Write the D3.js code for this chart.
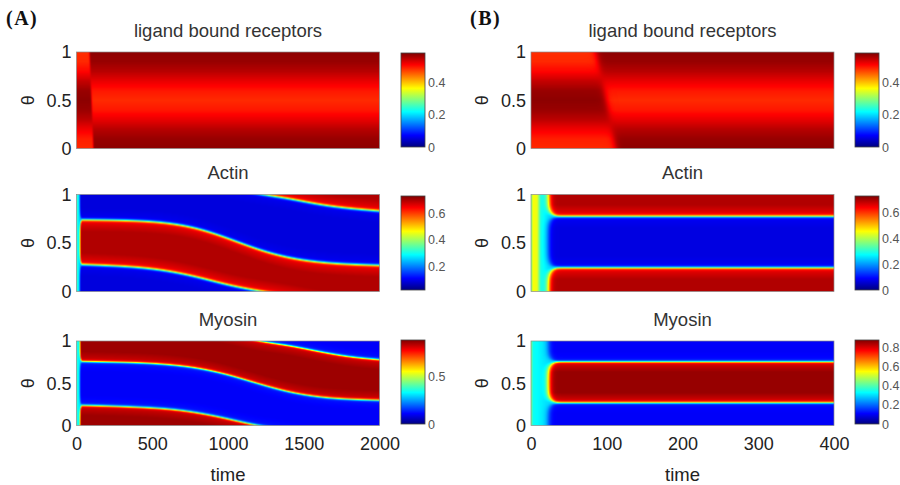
<!DOCTYPE html>
<html><head><meta charset="utf-8">
<script src="https://cdn.jsdelivr.net/npm/d3@7"></script>
<style>html,body{margin:0;padding:0;background:#fff;}svg{display:block;}</style>
</head><body>
<svg id="fig" width="900" height="485"></svg>
<script>
// ================= DATA =================
const thetaGrid = [0, 0.1, 0.2, 0.3, 0.4, 0.5, 0.6, 0.7, 0.8, 0.9, 1];
// ligand bound receptor profile across θ before and after the front
const ligandBefore = [0.485, 0.49, 0.515, 0.545, 0.565, 0.572, 0.565, 0.54, 0.505, 0.485, 0.482];
const ligandAfter  = [0.572, 0.566, 0.548, 0.52, 0.495, 0.484, 0.495, 0.52, 0.548, 0.566, 0.572];
const ligandFront  = [112, 86];          // time the front passes θ=0 and θ=1

// panel A: band edges (θ) over time (evenly spaced times); negative values wrap round to the top
const timeA = [0, 200, 400, 600, 800, 1000, 1200, 1400, 1600, 1800, 2000];
const actinA_bandLow   = [0.28, 0.268, 0.252, 0.215, 0.15, 0.065, 0.005, -0.04, -0.105, -0.145, -0.17];
const actinA_bandHigh  = [0.74, 0.737, 0.73, 0.71, 0.655, 0.55, 0.43, 0.345, 0.30, 0.28, 0.27];
const myosinA_bandLow  = [0.24, 0.232, 0.218, 0.20, 0.155, 0.08, -0.005, -0.05, -0.125, -0.19, -0.22];
const myosinA_bandHigh = [0.76, 0.752, 0.745, 0.725, 0.685, 0.605, 0.495, 0.395, 0.335, 0.31, 0.30];

// panel B: band edges (θ) over time
const timeB = [0, 100, 200, 300, 400];
const actinB_bandLow   = [0.245, 0.245, 0.245, 0.245, 0.245];
const actinB_bandHigh  = [0.775, 0.775, 0.775, 0.775, 0.775];
const myosinB_bandLow  = [0.27, 0.27, 0.27, 0.27, 0.27];
const myosinB_bandHigh = [0.755, 0.755, 0.755, 0.755, 0.755];

// field level inside / outside the band: [at edge, deep]
const actinA_inside  = [0.645, 0.695], actinA_outside  = [0.10, 0.085];
const myosinA_inside = [0.125, 0.105], myosinA_outside = [0.80, 0.85];
const actinB_inside  = [0.085, 0.07],  actinB_outside  = [0.64, 0.69];
const myosinB_inside = [0.79, 0.86],   myosinB_outside = [0.12, 0.105];

// early transient before the pattern forms
const transientTime = [0, 3, 8, 13, 22, 30];
const actinA_transient  = [0.38, 0.32, 0.30, 0.28, 0.25, 0.22];
const myosinA_transient = [0.44, 0.36, 0.34, 0.33, 0.30, 0.28];
const actinB_transient  = [0.36, 0.45, 0.44, 0.29, 0.25, 0.22];
const myosinB_transient = [0.44, 0.34, 0.33, 0.32, 0.30, 0.28];

// colour ranges and tick labels
const ligandRange = [0, 0.58],    ligandTicks = [0, 0.2, 0.4];
const actinA_range = [0.02, 0.73], actinA_ticks = [0.2, 0.4, 0.6];
const actinB_range = [0, 0.725],   actinB_ticks = [0, 0.2, 0.4, 0.6];
const myosinA_range = [0, 0.875],  myosinA_ticks = [0, 0.5];
const myosinB_range = [0, 0.88],   myosinB_ticks = [0, 0.2, 0.4, 0.6, 0.8];
const thetaTicks = [0, 0.5, 1];
const timeTicksA = [0, 500, 1000, 1500, 2000];
const timeTicksB = [0, 100, 200, 300, 400];
const titles = ["ligand bound receptors", "Actin", "Myosin"];
const panelLabels = ["(A)", "(B)"];

// ================= LAYOUT =================
const SANS = "'Liberation Sans', Arial, Helvetica, sans-serif";
const colX = { A: [76.5, 379.5], B: [531, 834] };
const cbX  = { A: [401, 425],    B: [855, 879] };
const rowY = [[52, 148.5], [194.5, 291.5], [341, 425.5]];
const cbY  = [[53, 147], [196, 290], [340, 424]];
const jetStops  = [0, 0.125, 0.375, 0.625, 0.875, 1];
const jetColors = ['#00007f', '#0000ff', '#00ffff', '#ffff00', '#ff0000', '#7f0000'];

const svg = d3.select('#fig');
const defs = svg.append('defs');
const grad = defs.append('linearGradient').attr('id', 'jet')
  .attr('x1', 0).attr('y1', 1).attr('x2', 0).attr('y2', 0);
jetStops.forEach((s, i) => grad.append('stop').attr('offset', s).attr('stop-color', jetColors[i]));

const logistic = z => 1 / (1 + Math.exp(-z));
const lin = (xs, ys) => d3.scaleLinear().domain(xs).range(ys).clamp(true);
// smooth curve through evenly spaced time samples
const smooth = (xs, ys) => {
  const f = d3.interpolateBasis(ys), s = d3.scaleLinear().domain([xs[0], xs[xs.length - 1]]).clamp(true);
  return t => f(s(t));
};
const plain = d => String(d);

function ligandField() {
  const pre = lin(thetaGrid, ligandBefore), post = lin(thetaGrid, ligandAfter);
  const front = d3.scaleLinear().domain([0, 1]).range(ligandFront);
  return (t, th) => {
    const f = logistic((t - front(th)) / 2.5);
    return pre(th) * (1 - f) + post(th) * f;
  };
}
function bandField(times, lows, highs, inside, outside, trVals) {
  const lo = smooth(times, lows), hi = smooth(times, highs), tr = lin(transientTime, trVals);
  return (t, th) => {
    const l = lo(t), h = hi(t);
    let d = -Infinity;
    for (const s of [-1, 0, 1]) { const u = th + s; d = Math.max(d, Math.min(u - l, h - u)); }
    const m = logistic(d / 0.0075);
    const a = Math.min(1, Math.abs(d) / 0.12);
    const vin = inside[0] + (inside[1] - inside[0]) * a;
    const vout = outside[0] + (outside[1] - outside[0]) * a;
    const p = vout + (vin - vout) * m;
    const tf = 23 + 10 * Math.exp(-Math.abs(d) / 0.04);
    const f = logistic((t - tf) / 2.2);
    return tr(t) * (1 - f) + p * f;
  };
}

const panels = [
  { col: 'A', row: 0, tmax: 2000, field: ligandField(), range: ligandRange, ticks: ligandTicks },
  { col: 'B', row: 0, tmax: 400,  field: ligandField(), range: ligandRange, ticks: ligandTicks },
  { col: 'A', row: 1, tmax: 2000, field: bandField(timeA, actinA_bandLow, actinA_bandHigh, actinA_inside, actinA_outside, actinA_transient), range: actinA_range, ticks: actinA_ticks },
  { col: 'B', row: 1, tmax: 400,  field: bandField(timeB, actinB_bandLow, actinB_bandHigh, actinB_inside, actinB_outside, actinB_transient), range: actinB_range, ticks: actinB_ticks },
  { col: 'A', row: 2, tmax: 2000, field: bandField(timeA, myosinA_bandLow, myosinA_bandHigh, myosinA_inside, myosinA_outside, myosinA_transient), range: myosinA_range, ticks: myosinA_ticks },
  { col: 'B', row: 2, tmax: 400,  field: bandField(timeB, myosinB_bandLow, myosinB_bandHigh, myosinB_inside, myosinB_outside, myosinB_transient), range: myosinB_range, ticks: myosinB_ticks }
];

panels.forEach(p => {
  const [x0, x1] = colX[p.col], [y0, y1] = rowY[p.row];
  const x = d3.scaleLinear().domain([0, p.tmax]).range([x0, x1]);
  const y = d3.scaleLinear().domain([0, 1]).range([y1, y0]);
  const color = d3.scaleLinear()
    .domain(jetStops.map(s => p.range[0] + s * (p.range[1] - p.range[0])))
    .range(jetColors).clamp(true);
  // colour lookup table
  const N = 512, lut = [];
  for (let k = 0; k < N; k++) {
    const c = d3.rgb(color(p.range[0] + (k / (N - 1)) * (p.range[1] - p.range[0])));
    lut.push([c.r, c.g, c.b]);
  }
  const toIdx = d3.scaleLinear().domain(p.range).range([0, N - 1]).clamp(true);
  const pw = Math.round(x1 - x0), ph = Math.round(y1 - y0);
  const canvas = document.createElement('canvas');
  canvas.width = pw; canvas.height = ph;
  const ctx = canvas.getContext('2d');
  const img = ctx.createImageData(pw, ph);
  for (let i = 0; i < pw; i++) {
    const t = x.invert(x0 + (i + 0.5) * (x1 - x0) / pw);
    for (let j = 0; j < ph; j++) {
      const th = y.invert(y0 + (j + 0.5) * (y1 - y0) / ph);
      const c = lut[Math.round(toIdx(p.field(t, th)))];
      const o = (j * pw + i) * 4;
      img.data[o] = c[0]; img.data[o + 1] = c[1]; img.data[o + 2] = c[2]; img.data[o + 3] = 255;
    }
  }
  ctx.putImageData(img, 0, 0);
  svg.append('image').attr('x', x0).attr('y', y0).attr('width', x1 - x0).attr('height', y1 - y0)
    .attr('preserveAspectRatio', 'none').attr('href', canvas.toDataURL());
  svg.append('rect').attr('x', x0).attr('y', y0).attr('width', x1 - x0).attr('height', y1 - y0)
    .attr('fill', 'none').attr('stroke', '#8a8a8a').attr('stroke-width', 0.7);

  // y axis
  const gy = svg.append('g').attr('transform', `translate(${x0},0)`)
    .call(d3.axisLeft(y).tickValues(thetaTicks).tickSize(0).tickPadding(5).tickFormat(plain));
  gy.select('.domain').remove();
  gy.selectAll('text').attr('font-family', SANS).attr('font-size', 18).attr('fill', '#222');
  svg.append('text').attr('transform', `translate(${x0 - 49},${(y0 + y1) / 2}) rotate(-90)`)
    .attr('text-anchor', 'middle').attr('dominant-baseline', 'central')
    .attr('font-family', SANS).attr('font-size', 18).attr('fill', '#222').text('θ');

  // title
  svg.append('text').attr('x', (x0 + x1) / 2).attr('y', y0 - 15.5).attr('text-anchor', 'middle')
    .attr('font-family', SANS).attr('font-size', 18.5).attr('fill', '#333').text(titles[p.row]);

  // x axis on bottom row
  if (p.row === 2) {
    const gx = svg.append('g').attr('transform', `translate(0,${y1})`)
      .call(d3.axisBottom(x).tickValues(p.col === 'A' ? timeTicksA : timeTicksB)
        .tickSize(0).tickPadding(11.5).tickFormat(plain));
    gx.select('.domain').remove();
    gx.selectAll('text').attr('font-family', SANS).attr('font-size', 18).attr('fill', '#222');
    svg.append('text').attr('x', (x0 + x1) / 2).attr('y', 481).attr('text-anchor', 'middle')
      .attr('font-family', SANS).attr('font-size', 18.5).attr('fill', '#222').text('time');
  }

  // colorbar
  const [cx0, cx1] = cbX[p.col], [cy0, cy1] = cbY[p.row];
  svg.append('rect').attr('x', cx0).attr('y', cy0).attr('width', cx1 - cx0).attr('height', cy1 - cy0)
    .attr('fill', 'url(#jet)').attr('stroke', '#444').attr('stroke-width', 0.8);
  const cb = d3.scaleLinear().domain(p.range).range([cy1, cy0]);
  const gc = svg.append('g').attr('transform', `translate(${cx1},0)`)
    .call(d3.axisRight(cb).tickValues(p.ticks).tickSize(0).tickPadding(3).tickFormat(plain));
  gc.select('.domain').remove();
  gc.selectAll('text').attr('font-family', SANS).attr('font-size', 12.5).attr('fill', '#555');
});

// panel labels
[["A", 6], ["B", 470]].forEach(([c, xx], i) => {
  svg.append('text').attr('x', xx).attr('y', 25).attr('font-family', "'Liberation Serif', 'Times New Roman', serif")
    .attr('font-weight', 'bold').attr('font-size', 20).attr('letter-spacing', 1.5).attr('fill', '#111').text(panelLabels[i]);
});
</script>
</body></html>
